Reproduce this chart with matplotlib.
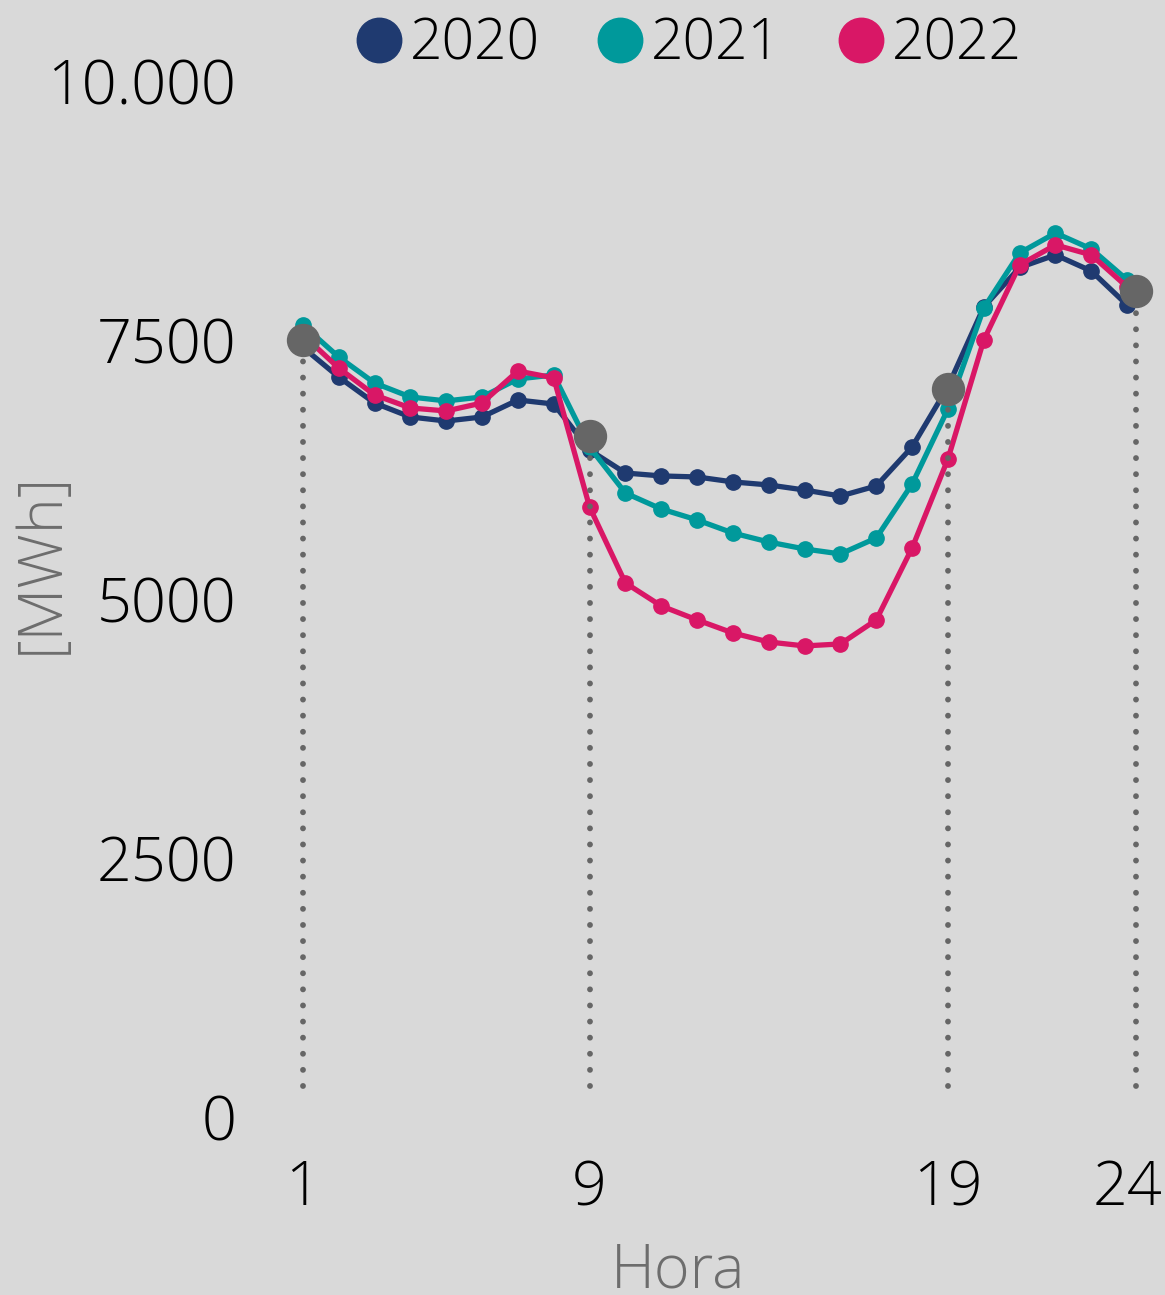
import matplotlib
matplotlib.use("Agg")
import matplotlib.pyplot as plt
from matplotlib.lines import Line2D

# ── Data ──────────────────────────────────────────────────────────────────────
hours = list(range(1, 25))

demand_2020 = [7430, 7143, 6892, 6757, 6718, 6757, 6921, 6882, 6438, 6216,
               6188, 6178, 6130, 6101, 6052, 5994, 6091, 6468, 7050, 7819,
               8200, 8321, 8166, 7838]
demand_2021 = [7645, 7336, 7085, 6950, 6912, 6950, 7124, 7162, 6467, 6023,
               5869, 5763, 5637, 5550, 5483, 5435, 5589, 6110, 6834, 7809,
               8340, 8533, 8379, 8080]
demand_2022 = [7550, 7230, 6970, 6844, 6815, 6892, 7201, 7134, 5888, 5155,
               4933, 4798, 4672, 4585, 4547, 4566, 4798, 5493, 6352, 7500,
               8224, 8418, 8321, 8012]

tick_hours = [1, 9, 19, 24]
highlight_x = [1, 9, 19, 24.25]
highlight_values = [7500, 6574, 7027, 7973]

y_ticks = [0, 2500, 5000, 7500, 10000]
y_tick_labels = ["0", "2500", "5000", "7500", "10.000"]

series = [
    ("2020", demand_2020, "#1f3a70"),
    ("2021", demand_2021, "#00999b"),
    ("2022", demand_2022, "#d91766"),
]

# ── Style ─────────────────────────────────────────────────────────────────────
_BG = "#d9d9d9"
_GREY = "#666666"
_LABEL = "#6d6d6d"
_FONT = "Open Sans"
_FS = 44

fig = plt.figure(figsize=(11.65, 12.95), dpi=100)
fig.patch.set_facecolor(_BG)
ax = fig.add_axes([267 / 1165, 1 - 1117 / 1295, 896 / 1165, 1036 / 1295])
ax.set_facecolor(_BG)
for s in ax.spines.values():
    s.set_visible(False)

for i, (name, vals, col) in enumerate(series):
    ax.plot(hours, vals, color=col, linewidth=3.8, marker="o", markersize=11,
            zorder=2 + i, solid_capstyle="round")

# dotted guides + highlight markers
for h, v in zip(highlight_x, highlight_values):
    ax.plot([h, h], [300, v], color=_GREY, linewidth=4.2,
            linestyle=(0, (0.01, 2.75)), dash_capstyle="round", zorder=6)
ax.plot(highlight_x, highlight_values, linestyle="none", marker="o",
        markersize=23, color=_GREY, zorder=7)

ax.set_xlim(0, 25)
ax.set_ylim(0, 10000)
ax.set_xticks(tick_hours)
ax.set_xticklabels([str(h) for h in tick_hours])
ax.set_yticks(y_ticks)
ax.set_yticklabels(y_tick_labels)
ax.tick_params(length=0, labelsize=_FS, colors="black")
ax.tick_params(axis="x", pad=30)
ax.tick_params(axis="y", pad=22)
for lbl in ax.get_xticklabels() + ax.get_yticklabels():
    lbl.set_fontfamily(_FONT)
    lbl.set_fontweight("light")

fig.text(678 / 1165, 1 - 1272 / 1295, "Hora", ha="center", va="center",
         fontsize=_FS, color=_LABEL, family=_FONT, fontweight="light")
fig.text(42 / 1165, 1 - 563 / 1295, "[MWh]", ha="center", va="center",
         rotation=90, fontsize=_FS, color=_LABEL, family=_FONT,
         fontweight="light")

handles = [Line2D([], [], linestyle="none", marker="o", markersize=32,
                  color=col) for _, _, col in series]
leg = fig.legend(handles, [s[0] for s in series], loc="center",
                 bbox_to_anchor=(686 / 1165, 1 - 45 / 1295), ncol=3,
                 frameon=False, handletextpad=0.05, columnspacing=0.9,
                 handlelength=1.0,
                 prop={"family": _FONT, "size": 41, "weight": "light"})

fig.savefig("out.png", dpi=100, facecolor=fig.get_facecolor())
